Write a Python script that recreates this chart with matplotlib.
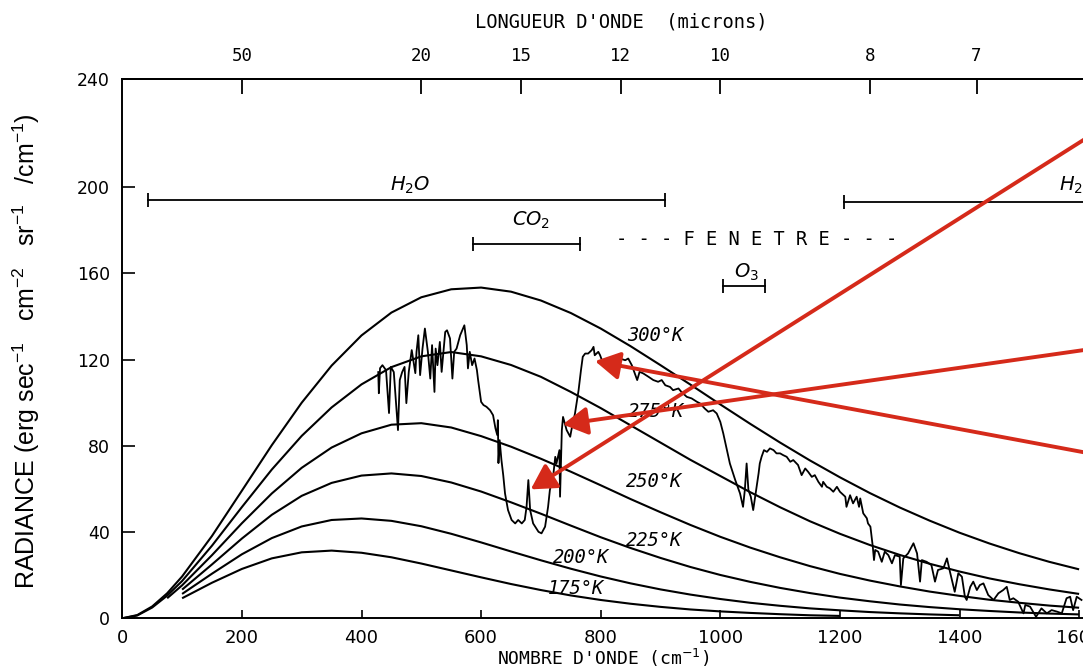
import numpy as np
import matplotlib
matplotlib.use("Agg")
import matplotlib.pyplot as plt

plt.rcParams['mathtext.fontset'] = 'custom'
plt.rcParams['mathtext.rm'] = 'Liberation Sans'
plt.rcParams['mathtext.it'] = 'Liberation Sans:italic'
plt.rcParams['mathtext.bf'] = 'Liberation Sans:bold'

# ---------------- data ----------------
NU_GRID = [0, 25, 50, 75, 100] + list(range(150, 1601, 50))
N = None
R_300 = [0, 1.5, 5.5, 11.6, 19.4, 38.2, 59.2, 80.3, 100.0, 117.2, 131.2, 141.8, 148.9, 152.6,
         153.4, 151.5, 147.4, 141.6, 134.4, 126.2, 117.4, 108.4, 99.2, 90.2, 81.5, 73.2, 65.4,
         58.1, 51.4, 45.3, 39.7, 34.7, 30.2, 26.2, 22.7]
R_275 = [0, 1.3, 5.0, 10.5, 17.3, 33.7, 51.6, 69.0, 84.6, 97.8, 108.5, 116.5, 121.5, 123.5,
         121.5, 117.5, 112.0, 105.0, 97.5, 89.5, 81.5, 73.5, 66.0, 58.5, 51.5, 45.0, 39.2,
         34.0, 29.4, 25.3, 21.7, 18.5, 15.8, 13.4, 11.3]
R_250 = [N, N, N, 9.3, 15.3, 29.3, 44.1, 57.9, 69.8, 79.2, 85.8, 89.8, 90.5, 88.5,
         84.5, 79.6, 74.0, 68.0, 61.7, 55.3, 49.2, 43.3, 37.8, 32.8, 28.3, 24.2, 20.6,
         17.5, 14.8, 12.4, 10.4, 8.6, 7.2, 5.9, 4.9]
R_225 = [N, N, N, N, 13.3, 25.0, 37.0, 48.0, 56.8, 62.8, 66.2, 67.2, 66.0, 63.0,
         58.8, 53.8, 48.5, 43.0, 37.6, 32.6, 28.0, 23.8, 20.1, 16.9, 14.1, 11.7, 9.6,
         7.9, 6.4, 5.2, 4.2, 3.4, 2.7, 2.2, 1.8]
R_200 = [N, N, N, N, 11.3, 20.7, 29.7, 37.2, 42.6, 45.6, 46.3, 45.2, 42.7, 39.2,
         35.2, 31.0, 26.9, 23.0, 19.4, 16.2, 13.4, 11.0, 8.95, 7.2, 5.8, 4.6, 3.7,
         2.9, 2.3, 1.8, 1.4, N, N, N, N]
R_175 = [N, N, N, N, 9.3, 16.5, 22.9, 27.8, 30.6, 31.4, 30.4, 28.3, 25.4, 22.2,
         19.0, 15.9, 13.1, 10.6, 8.5, 6.75, 5.3, 4.1, 3.2, 2.5, 1.9, 1.4, 1.1,
         N, N, N, N, N, N, N, N]
TEMPS = ["300°K", "275°K", "250°K", "225°K", "200°K", "175°K"]
TEMP_LABEL_POS = [(892, 131.3), (892, 95.8), (889, 63.4), (890, 36.3), (767, 28.2), (759, 13.6)]

SPEC_NU = [428, 429, 431, 435, 441, 446, 449, 454, 461, 464, 468, 472, 475, 479, 484, 490, 492,
           495, 498, 502, 506, 511, 515, 518, 522, 524, 527, 531, 534, 540, 543, 548, 552, 555,
           559, 565, 572, 576, 578, 581, 585, 589, 593, 595, 600, 604, 609, 615, 620, 624, 627,
           628, 629, 631, 634, 637, 640, 645, 651, 657, 662, 668, 673, 676, 679, 682, 687, 696,
           701, 707, 712, 715, 721, 724, 726, 731, 732, 735, 737, 743, 749, 751, 757, 763, 767,
           770, 774, 779, 785, 788, 790, 796, 799, 804, 807, 819, 832, 841, 846, 852, 857, 861,
           865, 871, 880, 888, 896, 902, 908, 916, 921, 930, 935, 944, 952, 961, 966, 974, 980,
           988, 994, 1000, 1005, 1011, 1016, 1025, 1033, 1038, 1041, 1044, 1047, 1051, 1055,
           1060, 1064, 1066, 1069, 1073, 1078, 1083, 1089, 1094, 1100, 1105, 1111, 1117, 1122,
           1130, 1136, 1142, 1147, 1153, 1158, 1164, 1170, 1172, 1178, 1183, 1189, 1195, 1200,
           1209, 1211, 1217, 1222, 1228, 1232, 1234, 1239, 1245, 1247, 1251, 1255, 1257, 1259,
           1264, 1270, 1275, 1281, 1287, 1292, 1300, 1302, 1306, 1314, 1323, 1329, 1334, 1337,
           1345, 1353, 1359, 1364, 1373, 1379, 1384, 1392, 1398, 1404, 1409, 1412, 1418, 1423,
           1429, 1434, 1440, 1448, 1457, 1465, 1473, 1479, 1484, 1490, 1498, 1507, 1510, 1518,
           1528, 1537, 1546, 1554, 1563, 1571, 1579, 1585, 1590, 1596, 1604]
SPEC_R = [114.2, 104.4, 116.0, 117.4, 115.1, 95.2, 116.6, 114.2, 87.3, 110.5, 114.2, 116.6, 99.8,
          114.2, 124.4, 113.7, 123.6, 131.3, 112.8, 125.1, 134.4, 123.6, 111.2, 126.7, 105.0,
          125.1, 117.4, 128.2, 114.3, 132.8, 133.6, 129.8, 111.2, 123.6, 125.1, 131.3, 135.9,
          126.7, 115.9, 123.6, 117.4, 120.5, 115.1, 110.5, 100.4, 98.9, 98.1, 96.5, 94.2, 88.1,
          85.0, 91.9, 72.0, 82.6, 73.4, 66.4, 57.9, 50.2, 45.6, 44.0, 45.6, 44.0, 45.6, 51.7,
          64.1, 50.2, 44.0, 40.1, 39.4, 42.5, 51.7, 59.5, 67.2, 74.9, 71.8, 78.0, 56.4, 87.3,
          93.4, 87.3, 84.2, 87.3, 95.0, 105.8, 115.1, 121.3, 122.8, 122.8, 124.4, 125.9, 122.0,
          123.6, 122.0, 118.2, 118.8, 120.6, 120.5, 119.7, 120.5, 117.4, 113.6, 110.5, 114.3,
          113.6, 112.0, 110.5, 109.7, 110.5, 108.1, 107.3, 105.8, 106.6, 105.0, 102.7, 102.0,
          100.4, 99.7, 97.3, 95.8, 96.5, 95.0, 91.1, 85.7, 78.0, 71.8, 64.1, 57.9, 51.7, 59.5,
          71.8, 59.5, 56.4, 50.2, 59.5, 67.2, 71.8, 74.9, 78.0, 77.2, 78.8, 78.0, 76.5, 76.5,
          75.7, 74.9, 72.6, 73.4, 71.1, 66.4, 69.5, 67.9, 65.6, 66.4, 63.3, 61.0, 63.3, 61.0,
          60.3, 58.7, 61.0, 58.7, 56.4, 51.7, 57.1, 53.3, 56.4, 51.7, 55.6, 48.7, 46.4, 44.0,
          42.5, 33.2, 27.0, 31.7, 30.9, 26.2, 30.9, 29.3, 25.5, 29.3, 28.6, 15.4, 27.8, 30.1,
          34.8, 30.1, 17.0, 27.0, 26.2, 24.7, 17.0, 22.4, 23.2, 27.8, 21.6, 12.3, 20.9, 19.3,
          10.0, 8.5, 14.6, 17.0, 13.1, 15.4, 16.2, 10.8, 8.5, 11.6, 13.1, 14.6, 8.5, 9.3, 7.7,
          2.3, 6.2, 5.4, 0.7, 4.6, 2.3, 3.8, 3.1, 2.3, 9.3, 10.0, 3.8, 10.0, 8.5]

X_TICKS = [0, 200, 400, 600, 800, 1000, 1200, 1400, 1600]
Y_TICKS = [0, 40, 80, 120, 160, 200, 250]
Y_TICK_LABELS = ["0", "40", "80", "120", "160", "200", "240"]
WAVELENGTHS = [50, 20, 15, 12, 10, 8, 7]

# band annotations: (start, end, level)
BAND_H2O_1 = (43, 907, 194.2)
BAND_H2O_2 = (1207, 1700, 193.1)
BAND_CO2 = (587, 765, 173.8)
BAND_O3 = (1005, 1074, 154.0)

ARROW_TIPS = [(683, 59.8), (736.5, 89.9), (790.5, 119.3)]
ARROW_TAILS = [(1668, 232.5), (1668, 126.8), (1668, 73.9)]

# ---------------- figure ----------------
W, H = 1083, 672
fig = plt.figure(figsize=(W / 100, H / 100), dpi=100)
ax = fig.add_axes([122.3 / W, (H - 618.3) / H, (W - 122.3) / W, (618.3 - 79.3) / H])
ax.set_xlim(0, 1606.5)
ax.set_ylim(0, 250)

def arr(v):
    return np.array([np.nan if x is None else x for x in v], dtype=float)

nu = np.array(NU_GRID, dtype=float)
for r in (R_300, R_275, R_250, R_225, R_200, R_175):
    ax.plot(nu, arr(r), color='black', lw=1.5, solid_capstyle='butt', zorder=3)

ax.plot(SPEC_NU, SPEC_R, color='black', lw=1.3, solid_joinstyle='round', zorder=4)

mono = 'DejaVu Sans Mono'
for lab, (x, y) in zip(TEMPS, TEMP_LABEL_POS):
    ax.text(x, y, lab, family=mono, style='italic', size=13.5, ha='center', va='center')

# bands
for (x0, x1, y), mk in ((BAND_H2O_1, [0, 1]), (BAND_H2O_2, [0]), (BAND_CO2, [0, 1]), (BAND_O3, [0, 1])):
    ax.plot([x0, x1], [y, y], color='black', lw=1.3, marker='|', ms=10, mew=1.3, markevery=mk)

ax.text(481, 200.8, r"$H_2O$", size=14, ha='center', va='center', math_fontfamily='dejavusans')
ax.text(1566, 200.8, r"$H_2O$", size=14, ha='left', va='center', math_fontfamily='dejavusans',
        clip_on=False)
ax.text(683, 184.6, r"$CO_2$", size=14, ha='center', va='center', math_fontfamily='dejavusans')
ax.text(1043, 160.5, r"$O_3$", size=14, ha='center', va='center', math_fontfamily='dejavusans')
ax.text(1060, 175.7, "- - - F E N E T R E - - -", family=mono, size=13.5, ha='center', va='center')

# red arrows
for tip, tail in zip(ARROW_TIPS, ARROW_TAILS):
    ax.annotate('', xy=tip, xytext=tail, annotation_clip=False, zorder=10,
                arrowprops=dict(arrowstyle='-|>,head_length=1.5,head_width=0.85',
                                mutation_scale=10, color='#d52a1a', lw=2.8,
                                shrinkA=0, shrinkB=0))

# axes styling
for s in ('left', 'bottom', 'top'):
    ax.spines[s].set_linewidth(1.4)
ax.spines['right'].set_visible(False)
ax.set_xticks(X_TICKS)
ax.set_xticklabels([str(t) for t in X_TICKS])
ax.set_yticks(Y_TICKS)
ax.set_yticklabels(Y_TICK_LABELS)
ax.tick_params(axis='x', direction='in', length=6, width=1.2, pad=8, labelsize=13)
ax.tick_params(axis='y', direction='in', length=9, width=1.2, pad=9, labelsize=12.5)

axt = ax.twiny()
axt.set_xlim(ax.get_xlim())
axt.set_xticks([1e4 / w for w in WAVELENGTHS])
axt.set_xticklabels([str(w) for w in WAVELENGTHS])
axt.tick_params(axis='x', direction='in', length=11, width=1.3, pad=10, labelsize=12.5,
                labelfontfamily=mono)
for s in ('left', 'bottom', 'right'):
    axt.spines[s].set_visible(False)
axt.spines['top'].set_linewidth(1.4)

fig.text(621.5 / W, 1 - 22.5 / H, "LONGUEUR D'ONDE  (microns)", family=mono, size=13.5,
         ha='center', va='center')
fig.text(602.8 / W, 1 - 657.5 / H, r"NOMBRE D'ONDE (cm$^{-1}$)", family=mono, size=13,
         ha='center', va='center', math_fontfamily='dejavusans')
fig.text(26 / W, 1 - 351 / H,
         r"RADIANCE (erg sec$^{-1}$   cm$^{-2}$   sr$^{-1}$   /cm$^{-1}$)",
         family='Liberation Sans', size=18, rotation=90, ha='center', va='center')

fig.savefig('out.png', dpi=100)
